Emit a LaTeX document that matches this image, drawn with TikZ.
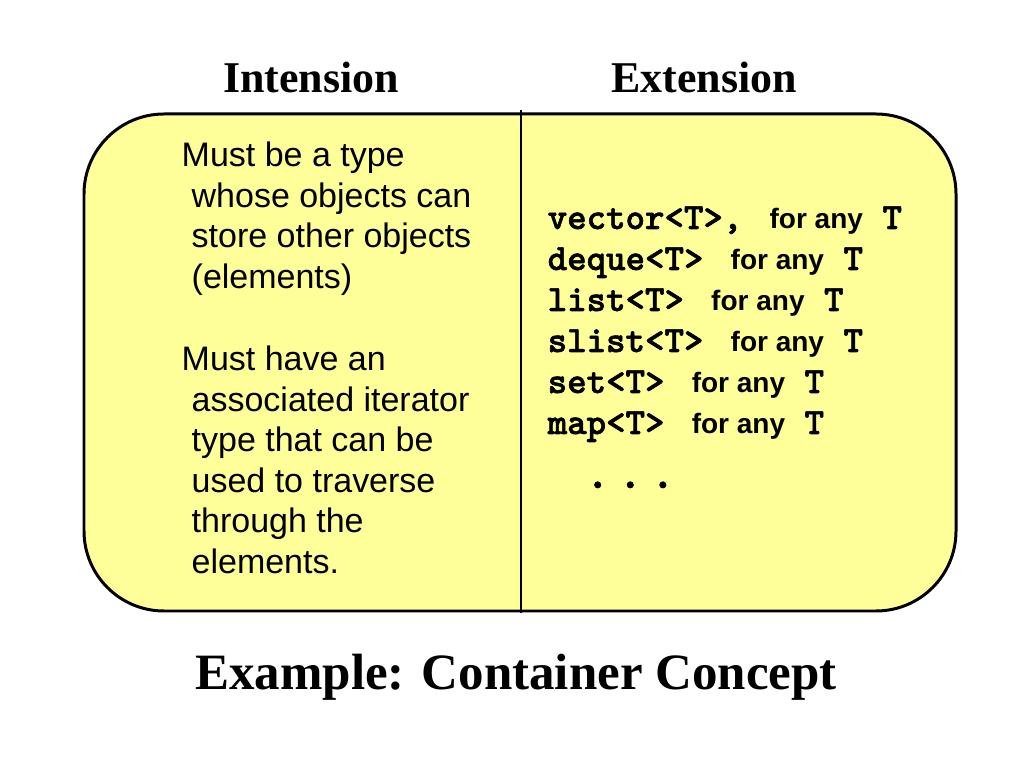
\documentclass[tikz,border=0pt]{standalone}
\usepackage{fontspec}
\setmainfont{Liberation Serif}
\setsansfont{Liberation Sans}
\newfontfamily\monob{lmmonolt10-bold}[Extension=.otf,FakeBold=1.6]
\definecolor{paleyellow}{HTML}{FFFF99}
\newcommand{\forany}{{\sffamily\bfseries\fontsize{7.97}{10}\selectfont\ for any}\ T}

\begin{document}
\begin{tikzpicture}
		[x=0.1mm,y=-0.1mm,
		box/.style={draw=black,line width=0.85pt,fill=paleyellow,rounded corners=8mm},
		head/.style={font=\bfseries\fontsize{12.5}{15}\selectfont,anchor=base,inner sep=0},
		body/.style={font=\sffamily\fontsize{9.67}{11.5}\selectfont,anchor=base west,inner sep=0},
		ext/.style={font=\monob\fontsize{10.55}{12}\selectfont,anchor=base west,inner sep=0}
		]
		\useasboundingbox (0,0) rectangle (1024,768);
		\draw[box] (84,114) rectangle (956,611);
		\coordinate (top) at (521,110);
		\coordinate (bottom) at (521,613);
		\draw[line width=0.7pt] (top) -- (bottom);

		\node[head] (intension) at (311,93){Intension};
		\node[head] (extension) at (704,93){Extension};
		\node[head,font=\bfseries\fontsize{14.5}{17}\selectfont] (caption) at (516,690){Example: Container Concept};

\node[body] (store0) at (181,167){Must be a type};
\foreach \txt [count=\i] in {whose objects can,store other objects,(elements)}
	\node[body] (store\i) at (191,167+40.5*\i){\txt};
\node[body] (iter0) at (181,371){Must have an};
\foreach \txt [count=\i] in {associated iterator,type that can be,used to traverse,through the,elements.}
	\node[body] (iter\i) at (191,371+40.5*\i){\txt};

\node[ext] (vector) at (547,229){vector<T>,\ \forany};
\node[ext] (deque) at (547,270){deque<T>\ \forany};
\node[ext] (list) at (547,311){list<T>\ \forany};
\node[ext] (slist) at (547,352){slist<T>\ \forany};
\node[ext] (set) at (547,393){set<T>\ \forany};
\node[ext] (map) at (547,434){map<T>\ \forany};
\node[ext,font=\monob\fontsize{13}{15}\selectfont] (dots) at (585,488){.\hspace{2.45pt}.\hspace{2.45pt}.};
	\end{tikzpicture}
\end{document}
